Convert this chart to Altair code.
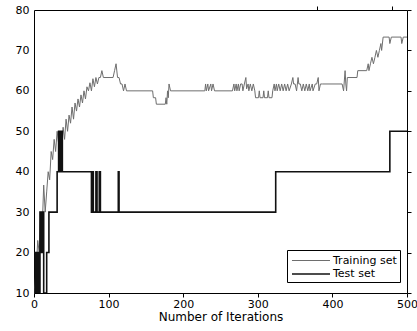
import altair as alt
import pandas as pd

# Training set accuracy (iteration, value)
train_iter = [0, 3, 5, 7, 9, 11, 13, 15, 17, 19, 21, 23, 25, 27, 29, 31, 33, 35, 37, 39,
              41, 43, 45, 47, 49, 51, 53, 55, 57, 59, 61, 63, 65, 67, 69, 71, 73, 75, 77, 79,
              81, 83, 85, 87, 89, 91, 93, 106, 108, 110, 112, 114, 116, 118, 120, 122, 124,
              159, 160, 163, 164, 176, 177, 178, 179, 180, 181, 183,
              229, 230, 231, 233, 234, 237, 238, 240, 242,
              266, 268, 269, 271, 272, 274, 275, 277, 279, 280, 282, 284, 285, 287, 288, 290, 292,
              294, 296, 297, 301, 302, 303, 307, 308, 309, 313, 314, 315, 319, 320, 322, 323, 325,
              326, 328, 330, 332, 334, 336, 338, 340, 342, 345, 347, 348, 350, 352, 354, 355, 357,
              359, 361, 363, 365, 367, 369, 370, 373, 374, 377, 379, 381, 382, 384, 387,
              413, 415, 417, 418, 419, 420, 433, 434, 446, 448, 449, 451, 453, 455, 457, 459, 461,
              463, 465, 466, 468, 476, 477, 479, 492, 493, 495, 500]
train_val = [10, 16, 23, 20, 30, 26, 36.7, 30, 35, 40, 38, 45, 43, 48, 45, 50, 47, 50, 46, 51,
             48, 53, 50, 54, 52, 56, 53, 57, 55, 58, 56, 59, 57, 60, 58, 61, 60, 62, 60, 63,
             61, 63.3, 61.7, 63.3, 63.3, 65, 63.3, 63.3, 65, 66.7, 63.3, 63.3, 61.7, 61.7, 60, 61.7, 60,
             60, 58.3, 58.3, 56.7, 56.7, 58.3, 56.7, 60, 58.3, 61.7, 60,
             60, 61.7, 60, 61.7, 60, 61.7, 60, 61.7, 60,
             60, 61.7, 60, 61.7, 60, 61.7, 60, 61.7, 61.7, 60, 61.7, 63.3, 60.5, 61.7, 60, 61.7, 60,
             61.7, 60, 58.3, 58.3, 60, 58.3, 58.3, 60, 58.3, 58.3, 60, 58.3, 58.3, 60, 61.7, 60, 61.7,
             60, 61.7, 60, 61.7, 60, 61.7, 60, 61.7, 60, 61.7, 63.3, 61.7, 61.7, 60, 63.3, 61.7, 61.7,
             60, 61.7, 60, 61.7, 60, 61.7, 60, 61.7, 60, 61.7, 61.7, 63.3, 60, 61.7, 61.7,
             61.7, 60, 65, 61.7, 60, 63.3, 63.3, 65, 65, 66.7, 65, 66.7, 68.3, 66.7, 68.3, 70, 68.3,
             70, 71.7, 70, 73.3, 73.3, 71.7, 73.3, 73.3, 71.7, 73.3, 73.3]

# Test set accuracy (iteration, value), step changes
test_iter = [0, 1.5, 2.5, 4, 5.5, 7, 8, 9, 10, 11, 12, 13, 17, 20, 31, 33, 34, 35, 36, 37, 38,
             77, 78, 79.5, 83, 84.5, 87.5, 89, 113, 114, 324, 477, 500]
test_val = [20, 10, 20, 10, 20, 10, 30, 20, 30, 20, 30, 10, 20, 30, 40, 50, 40, 50, 40, 50, 40,
            30, 40, 30, 40, 30, 40, 30, 40, 30, 40, 50, 50]

series_names = ["Training set", "Test set"]
x_ticks = [0, 100, 200, 300, 400, 500]
y_ticks = [10, 20, 30, 40, 50, 60, 70, 80]

train_df = pd.DataFrame({"iter": train_iter, "acc": train_val, "series": "Training set"})
test_df = pd.DataFrame({"iter": test_iter, "acc": test_val, "series": "Test set"})

FONT = "DejaVu Sans"
W, H = 373, 283
xscale = alt.Scale(domain=[0, 500], nice=False, zero=False)
yscale = alt.Scale(domain=[10, 80], nice=False, zero=False)
legend = alt.Legend(title=None, orient="none", legendX=253, legendY=240,
                    symbolType="M-0.86,0H4.57", symbolSize=196,
                    symbolFillColor="transparent",
                    strokeColor="black", fillColor="white", padding=3,
                    labelFontSize=11, labelFont=FONT, labelColor="black",
                    labelOffset=27, rowPadding=0)
color = alt.Color("series:N", scale=alt.Scale(domain=series_names, range=["#6e6e6e", "#111111"]),
                  legend=legend)
swidth = alt.StrokeWidth("series:N", scale=alt.Scale(domain=series_names, range=[1.0, 1.6]),
                         legend=legend)

train = alt.Chart(train_df).mark_line(clip=True).encode(
    x=alt.X("iter:Q", scale=xscale,
            axis=alt.Axis(orient="bottom", values=x_ticks, ticks=False, domain=False, grid=False,
                          labelPadding=5, title="Number of Iterations", titleFontSize=12,
                          titleFontWeight="normal", titlePadding=2, titleColor="black",
                          labelFlush=False)),
    y=alt.Y("acc:Q", scale=yscale,
            axis=alt.Axis(orient="left", values=y_ticks, ticks=False, domain=False, grid=False,
                          labelPadding=5, title=None)),
    color=color,
    strokeWidth=swidth,
)

test = alt.Chart(test_df).mark_line(interpolate="step-after", clip=True).encode(
    x=alt.X("iter:Q", scale=xscale,
            axis=alt.Axis(orient="top", position=H, values=x_ticks, ticks=True, tickSize=4,
                          labels=False, domain=False, grid=False, title=None, tickColor="black")),
    y=alt.Y("acc:Q", scale=yscale,
            axis=alt.Axis(orient="right", position=0, values=y_ticks, ticks=True, tickSize=4,
                          labels=False, domain=False, grid=False, title=None, tickColor="black")),
    color=color,
    strokeWidth=swidth,
)

mirror = alt.Chart(train_df).mark_line(opacity=0).encode(
    x=alt.X("iter:Q", scale=xscale,
            axis=alt.Axis(orient="bottom", position=0, values=x_ticks, ticks=True, tickSize=4,
                          labels=False, domain=False, grid=False, title=None, tickColor="black")),
    y=alt.Y("acc:Q", scale=yscale,
            axis=alt.Axis(orient="left", position=W, values=y_ticks, ticks=True, tickSize=4,
                          labels=False, domain=False, grid=False, title=None, tickColor="black")),
)

chart = alt.layer(train, test, mirror).resolve_axis(
    x="independent", y="independent"
).properties(
    width=W, height=H,
    autosize=alt.AutoSizeParams(type="none"),
    padding={"left": 34, "top": 10, "right": 10, "bottom": 38},
    background="white",
).configure(
    font=FONT
).configure_view(
    stroke="black", strokeWidth=1
).configure_axis(
    labelFont=FONT, labelFontSize=11, labelColor="black",
    titleFont=FONT,
)

chart.save("out.html", embed_options={"renderer": "svg", "actions": False})
